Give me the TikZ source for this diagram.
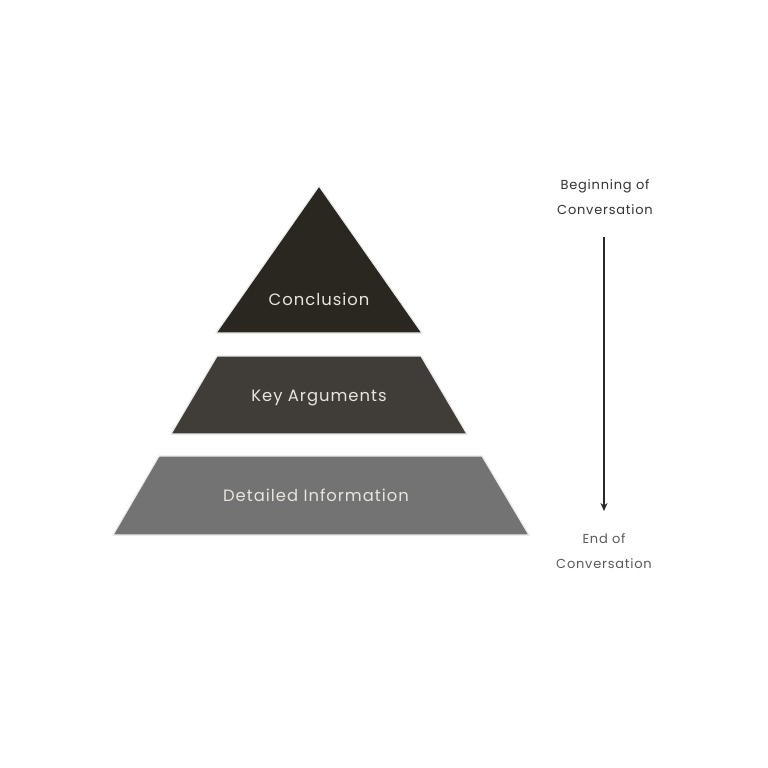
\documentclass[tikz,border=0pt]{standalone}
\usepackage{fontspec}
\setmainfont{Poppins}[LetterSpace=6]
\usetikzlibrary{arrows.meta}

\definecolor{topfill}{RGB}{42,38,32}
\definecolor{midfill}{RGB}{64,60,56}
\definecolor{lowfill}{RGB}{115,115,115}
\definecolor{edgegray}{RGB}{235,235,235}
\definecolor{labtxt}{RGB}{232,228,222}

\tikzset{
  layer/.style={draw=edgegray, line width=1.2pt, line join=miter},
  laytext/.style={text=labtxt, font=\fontsize{16.4}{19}\selectfont, anchor=base},
  sidetext/.style={font=\fontsize{13}{25}\selectfont, align=center},
}

\begin{document}
\begin{tikzpicture}[x=1pt,y=1pt,yscale=-1,xscale=1]
\useasboundingbox[fill=white] (0,0) rectangle (768,768);

%Shape: Triangle [id:top]
\draw [layer, fill=topfill] (319,186) -- (422,333) -- (216,333) -- cycle ;
%Shape: Trapezoid [id:mid]
\draw [layer, fill=midfill] (217,356) -- (421,356) -- (467,434) -- (171,434) -- cycle ;
%Shape: Trapezoid [id:low]
\draw [layer, fill=lowfill] (159,456) -- (482,456) -- (529,535) -- (113,535) -- cycle ;

% Text Node
\draw (319,305.5) node [laytext] (concl) {Conclusion};
% Text Node
\draw (319,401.5) node [laytext] (keyarg) {Key Arguments};
% Text Node
\draw (316,501.5) node [laytext] (detinfo) {Detailed Information};

% Text Node
\draw (605,197) node [sidetext, text={rgb,255:red,51;green,51;blue,51}] (begconv) {Beginning of\\Conversation};
% Text Node
\draw (604,551) node [sidetext, text={rgb,255:red,90;green,90;blue,90}] (endconv) {End of\\Conversation};

%Arrow
\coordinate (arrtop) at (604,237);
\coordinate (arrbot) at (604,511);
\draw [-{Stealth[length=8pt,width=7pt]}, line width=1.3pt, color={rgb,255:red,40;green,40;blue,40}] (arrtop) -- (arrbot) ;

\end{tikzpicture}
\end{document}
